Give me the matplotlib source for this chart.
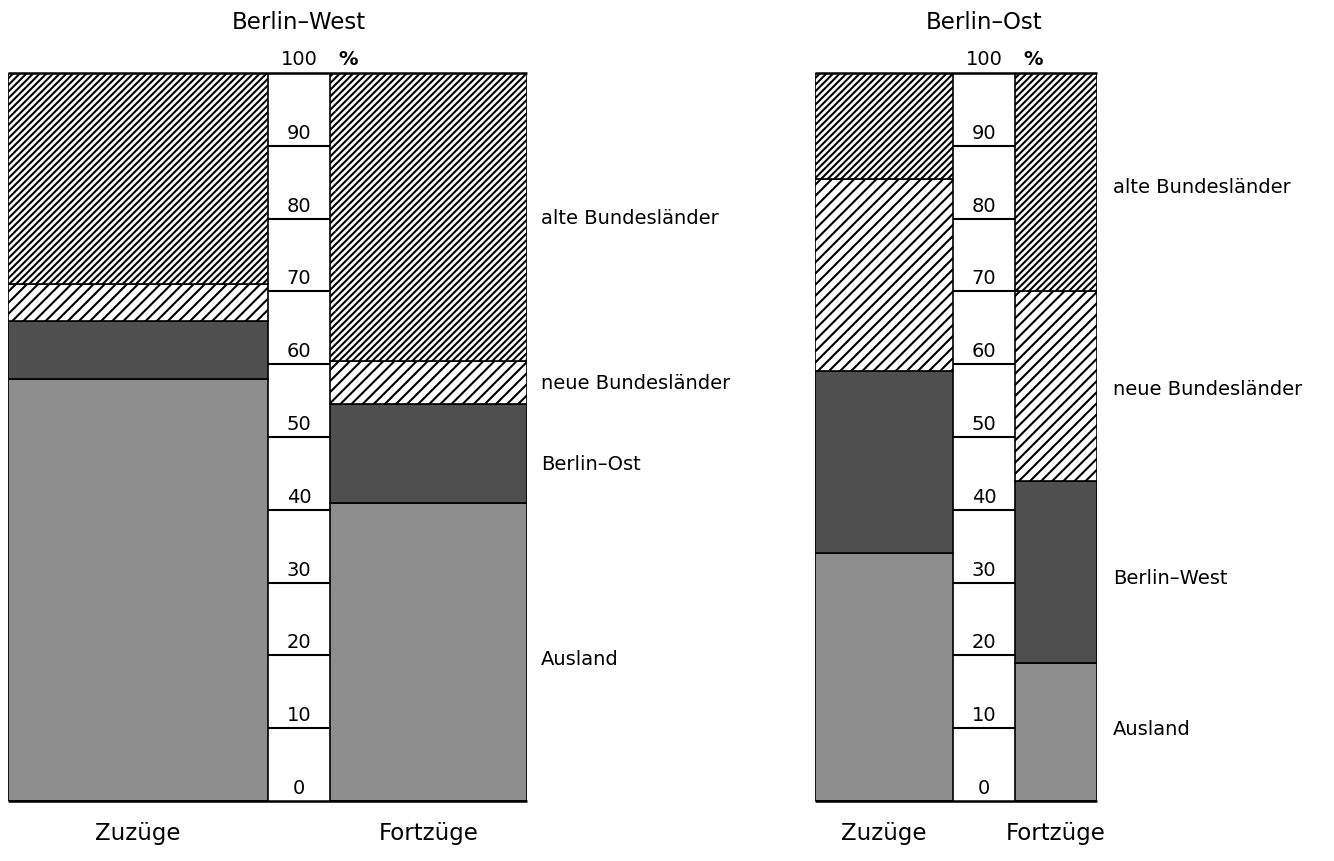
import matplotlib
matplotlib.use('Agg')
import matplotlib.pyplot as plt

# Anteile in % (von unten nach oben): Ausland, Berlin (andere Stadthälfte), neue BL, alte BL
west_zuzuege = [58, 8, 5, 29]
west_fortzuege = [41, 13.5, 6, 39.5]
ost_zuzuege = [34, 25, 26.5, 14.5]
ost_fortzuege = [19, 25, 26, 30]

west_labels = ['Ausland', 'Berlin\u2013Ost', 'neue Bundesländer', 'alte Bundesländer']
ost_labels = ['Ausland', 'Berlin\u2013West', 'neue Bundesländer', 'alte Bundesländer']
west_label_y = [19.4, 46.2, 57.4, 80]
ost_label_y = [9.8, 30.6, 56.5, 84.3]

ticks = [0, 10, 20, 30, 40, 50, 60, 70, 80, 90]

# Farben / Schraffur je Segment
colors = ['#8e8e8e', '#4f4f4f', 'white', 'white']
hatches = [None, None, '///', '/////']

plt.rcParams['font.family'] = ['DejaVu Sans']
plt.rcParams['hatch.linewidth'] = 1.5

fig = plt.figure(figsize=(13.34, 8.61), dpi=100)


def panel(rect, xlim, bar1, bar2, col, z, f, labels, label_y, label_x, title):
    ax = fig.add_axes(rect)
    ax.set_xlim(0, xlim)
    ax.set_ylim(0, 100)
    ax.axis('off')
    for (x0, w), vals in ((bar1, z), (bar2, f)):
        bottom = 0
        for v, c, h in zip(vals, colors, hatches):
            ax.bar(x0, v, w, bottom=bottom, align='edge', color=c, hatch=h,
                   edgecolor='black', linewidth=1.2)
            bottom += v
    cx0, cw = col
    cmid = cx0 + cw / 2
    for t in ticks[1:]:
        ax.hlines(t, cx0, cx0 + cw, color='black', linewidth=1.5)
    for t in ticks:
        ax.text(cmid, t + 0.4, str(t), ha='center', va='bottom', fontsize=14)
    ax.text(cmid, 100.6, '100', ha='center', va='bottom', fontsize=14, clip_on=False)
    ax.text(cx0 + cw + 18, 100.6, '%', ha='center', va='bottom', fontsize=14,
            fontweight='bold', clip_on=False)
    ax.hlines([0, 100], 0, xlim, color='black', linewidth=1.8, clip_on=False)
    for lab, y in zip(labels, label_y):
        ax.text(label_x, y, lab, ha='left', va='center', fontsize=14, clip_on=False)
    ax.text(cmid, 107, title, ha='center', va='center', fontsize=16.5, clip_on=False)
    ax.text(bar1[0] + bar1[1] / 2, -4.4, 'Zuzüge', ha='center', va='center',
            fontsize=16.5, clip_on=False)
    ax.text(bar2[0] + bar2[1] / 2, -4.4, 'Fortzüge', ha='center', va='center',
            fontsize=16.5, clip_on=False)
    return ax


H = 861
W = 1334
# linkes Feld: Berlin-West
panel([8 / W, (H - 801) / H, 519 / W, 728 / H], 519,
      (0, 260), (322, 197), (260, 62),
      west_zuzuege, west_fortzuege, west_labels, west_label_y, 533, 'Berlin\u2013West')

# rechtes Feld: Berlin-Ost
panel([815 / W, (H - 801) / H, 282 / W, 728 / H], 282,
      (0, 138), (200, 82), (138, 62),
      ost_zuzuege, ost_fortzuege, ost_labels, ost_label_y, 298, 'Berlin\u2013Ost')

fig.savefig('out.png', dpi=100, facecolor='white')
